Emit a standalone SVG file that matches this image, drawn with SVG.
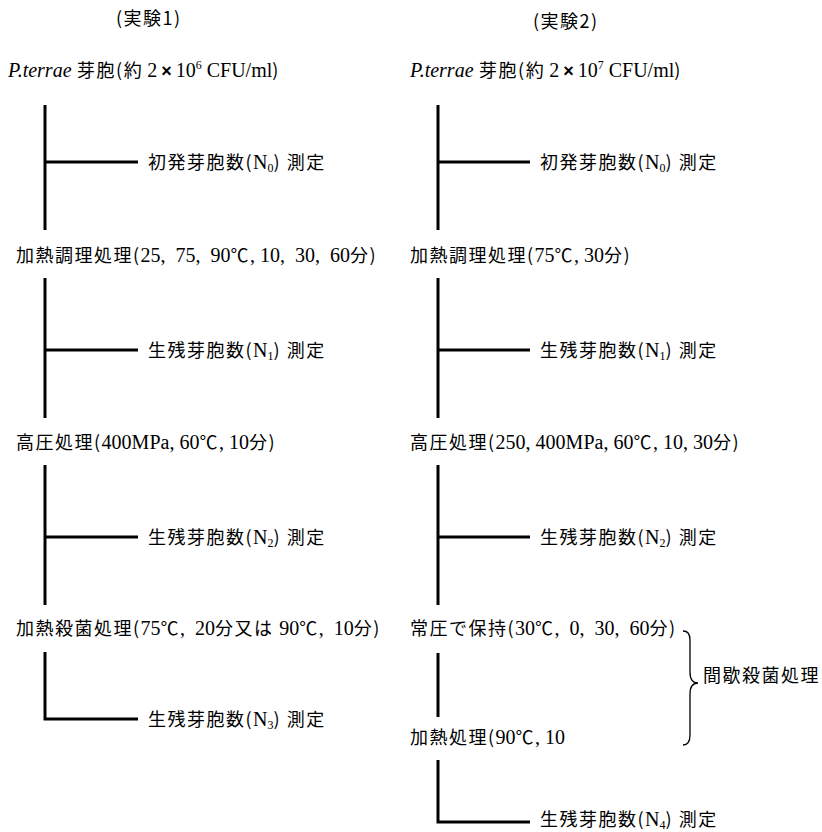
<svg xmlns="http://www.w3.org/2000/svg" width="822" height="832" viewBox="0 0 822 832">
<style>
text{font-family:"Noto Sans CJK JP","Noto Sans",sans-serif;font-size:18px;fill:#000;letter-spacing:1.5px}
.s{font-family:"Liberation Serif",serif;font-size:20px;letter-spacing:0}
.i{font-family:"Liberation Serif",serif;font-size:20px;font-style:italic;letter-spacing:0}
.c{font-family:"Liberation Sans",sans-serif;letter-spacing:0}
.ln{stroke:#000;stroke-width:3;fill:none}
.br{stroke:#000;stroke-width:1.3;fill:none}
</style>
<rect width="822" height="832" fill="#fff"/>
<g id="titles">
<text x="116" y="25">(実験1)</text>
<text x="533" y="28">(実験2)</text>
</g>
<g id="connectors">
<path class="ln" d="M45 105V230M45 162H138"/>
<path class="ln" d="M45 278V418M45 350H138"/>
<path class="ln" d="M45 465V605M45 537H138"/>
<path class="ln" d="M45 652V719H138"/>
<path class="ln" d="M438 105V230M438 162H530"/>
<path class="ln" d="M438 278V418M438 350H530"/>
<path class="ln" d="M438 465V605M438 537H530"/>
<path class="ln" d="M438 653V717"/>
<path class="ln" d="M438 760V822H530"/>
<path class="br" d="M683 631Q690 631 690 640V672Q690 683 698 683Q690 683 690 694V735Q690 745 683 745"/>
</g>
<g id="e1-start"><text x="8" y="77"><tspan class="i">P.terrae</tspan> 芽胞(約<tspan class="s">&#8201;2&#8201;</tspan><tspan class="c" font-weight="bold">×</tspan><tspan class="s">&#8201;10<tspan font-size="12" dy="-8">6</tspan><tspan dy="8"> CFU/ml</tspan></tspan>)</text></g>
<g id="e1-n0"><text x="148" y="169">初発芽胞数(<tspan class="s">N<tspan font-size="12" dy="3">0</tspan></tspan><tspan dy="-3">) 測定</tspan></text></g>
<g id="e1-cook"><text x="16" y="262">加熱調理処理(<tspan class="s">25,&#8194;75,&#8194;90</tspan>℃<tspan class="s">, 10,&#8194;30,&#8194;60</tspan>分)</text></g>
<g id="e1-n1"><text x="148" y="357">生残芽胞数(<tspan class="s">N<tspan font-size="12" dy="3">1</tspan></tspan><tspan dy="-3">) 測定</tspan></text></g>
<g id="e1-hp"><text x="16" y="449">高圧処理(<tspan class="s">400MPa, 60</tspan>℃<tspan class="s">, 10</tspan>分)</text></g>
<g id="e1-n2"><text x="148" y="544">生残芽胞数(<tspan class="s">N<tspan font-size="12" dy="3">2</tspan></tspan><tspan dy="-3">) 測定</tspan></text></g>
<g id="e1-ster"><text x="16" y="635">加熱殺菌処理(<tspan class="s">75</tspan>℃<tspan class="s">,&#8194;20</tspan>分又は <tspan class="s">90</tspan>℃<tspan class="s">,&#8194;10</tspan>分)</text></g>
<g id="e1-n3"><text x="148" y="726">生残芽胞数(<tspan class="s">N<tspan font-size="12" dy="3">3</tspan></tspan><tspan dy="-3">) 測定</tspan></text></g>
<g id="e2-start"><text x="410" y="77"><tspan class="i">P.terrae</tspan> 芽胞(約<tspan class="s">&#8201;2&#8201;</tspan><tspan class="c" font-weight="bold">×</tspan><tspan class="s">&#8201;10<tspan font-size="12" dy="-8">7</tspan><tspan dy="8"> CFU/ml</tspan></tspan>)</text></g>
<g id="e2-n0"><text x="540" y="169">初発芽胞数(<tspan class="s">N<tspan font-size="12" dy="3">0</tspan></tspan><tspan dy="-3">) 測定</tspan></text></g>
<g id="e2-cook"><text x="410" y="262">加熱調理処理(<tspan class="s">75</tspan>℃<tspan class="s">, 30</tspan>分)</text></g>
<g id="e2-n1"><text x="540" y="357">生残芽胞数(<tspan class="s">N<tspan font-size="12" dy="3">1</tspan></tspan><tspan dy="-3">) 測定</tspan></text></g>
<g id="e2-hp"><text x="410" y="449">高圧処理(<tspan class="s">250, 400MPa, 60</tspan>℃<tspan class="s">, 10, 30</tspan>分)</text></g>
<g id="e2-n2"><text x="540" y="544">生残芽胞数(<tspan class="s">N<tspan font-size="12" dy="3">2</tspan></tspan><tspan dy="-3">) 測定</tspan></text></g>
<g id="e2-hold"><text x="410" y="635">常圧で保持(<tspan class="s">30</tspan>℃<tspan class="s">,&#8194;0,&#8194;30,&#8194;60</tspan>分)</text></g>
<g id="e2-heat"><text x="410" y="744">加熱処理(<tspan class="s">90</tspan>℃<tspan class="s">, 10</tspan></text></g>
<g id="e2-brace-label"><text x="703" y="682">間歇殺菌処理</text></g>
<g id="e2-n4"><text x="540" y="826">生残芽胞数(<tspan class="s">N<tspan font-size="12" dy="3">4</tspan></tspan><tspan dy="-3">) 測定</tspan></text></g>
</svg>
